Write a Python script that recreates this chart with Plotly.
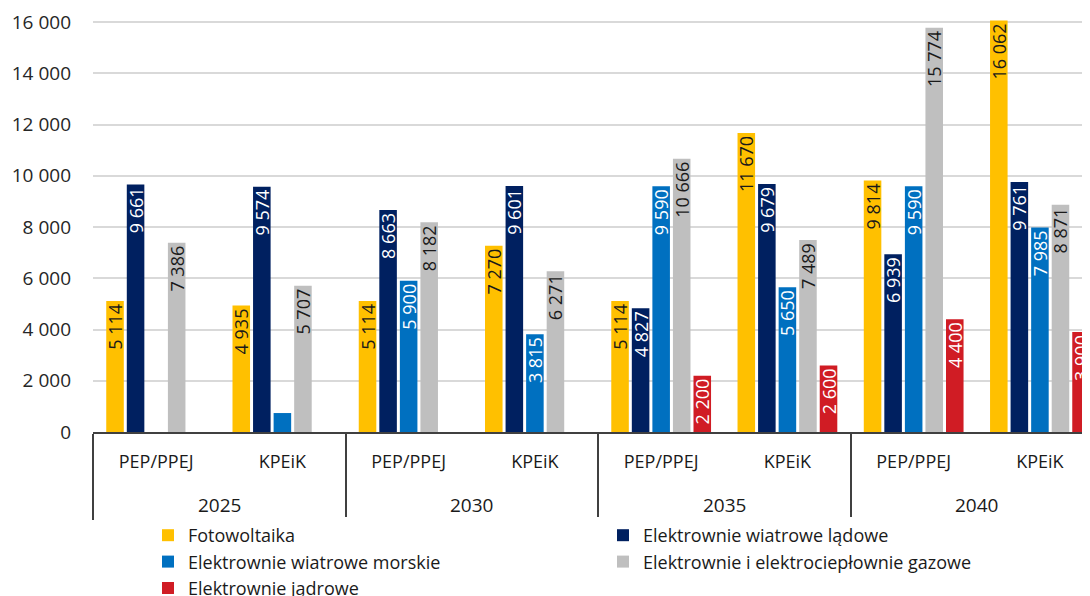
import plotly.graph_objects as go

years = ["2025", "2030", "2035", "2040"]
scenarios = ["PEP/PPEJ", "KPEiK", "PEP/PPEJ", "KPEiK", "PEP/PPEJ", "KPEiK", "PEP/PPEJ", "KPEiK"]

series_names = [
    "Fotowoltaika",
    "Elektrownie wiatrowe lądowe",
    "Elektrownie wiatrowe morskie",
    "Elektrownie i elektrociepłownie gazowe",
    "Elektrownie jądrowe",
]
pv = [5114, 4935, 5114, 7270, 5114, 11670, 9814, 16062]
wind_onshore = [9661, 9574, 8663, 9601, 4827, 9679, 6939, 9761]
wind_offshore = [None, 740, 5900, 3815, 9590, 5650, 9590, 7985]
gas = [7386, 5707, 8182, 6271, 10666, 7489, 15774, 8871]
nuclear = [None, None, None, None, 2200, 2600, 4400, 3900]

colors = ["#FFC000", "#002060", "#0070C0", "#BFBFBF", "#D01C24"]
label_colors = ["#1a1a1a", "#ffffff", "#ffffff", "#1a1a1a", "#ffffff"]

FONT = "Open Sans, Roboto, sans-serif"

xpos = list(range(len(scenarios)))
per_year = len(scenarios) // len(years)


def fmt(v):
    if v is None or v < 1500:
        return ""
    return f"{v:,}".replace(",", " ")


fig = go.Figure()
for name, vals, col, lcol in zip(series_names, [pv, wind_onshore, wind_offshore, gas, nuclear], colors, label_colors):
    fig.add_trace(go.Bar(
        x=xpos,
        y=vals,
        name=name,
        marker=dict(color=col, line=dict(width=0)),
        text=[fmt(v) for v in vals],
        textposition="inside",
        insidetextanchor="end",
        textangle=-90,
        constraintext="none",
        textfont=dict(family=FONT, size=18, color=lcol),
        cliponaxis=False,
    ))

fig.update_layout(
    width=1090,
    height=596,
    margin=dict(l=85, r=0, t=12, b=172, autoexpand=False),
    plot_bgcolor="white",
    paper_bgcolor="white",
    barmode="group",
    bargap=0.186,
    bargroupgap=0.146,
    separators=", ",
    font=dict(family=FONT, size=18, color="#1a1a1a"),
    showlegend=True,
    legend=dict(
        orientation="h",
        x=0.0547,
        xanchor="left",
        y=-0.2063,
        yanchor="top",
        entrywidth=410,
        entrywidthmode="pixels",
        font=dict(family=FONT, size=18, color="#1a1a1a"),
        traceorder="normal",
        itemwidth=30,
    ),
)

fig.update_xaxes(
    range=[-0.5, 7.46],
    tickmode="array",
    tickvals=xpos,
    ticktext=scenarios,
    showline=True,
    linecolor="#404040",
    linewidth=1.5,
    ticks="",
    ticklabelstandoff=13,
    tickfont=dict(family=FONT, size=18, color="#1a1a1a"),
    showgrid=False,
    zeroline=False,
    minor=dict(
        tickmode="linear",
        tick0=-0.5,
        dtick=per_year,
        ticks="outside",
        ticklen=86,
        tickwidth=1.5,
        tickcolor="#404040",
        showgrid=False,
    ),
)
fig.update_yaxes(
    range=[0, 16080],
    tickmode="array",
    tickvals=list(range(0, 16001, 2000)),
    tickformat=",d",
    showgrid=True,
    gridcolor="#D9D9D9",
    gridwidth=1.5,
    zeroline=False,
    showline=False,
    ticks="",
    ticklabelstandoff=21,
    tickfont=dict(family=FONT, size=19, color="#262626"),
)

for i, yr in enumerate(years):
    center = sum(xpos[i * per_year:(i + 1) * per_year]) / per_year
    fig.add_annotation(
        text=yr, x=center, xref="x", y=-73 / 412, yref="paper",
        xanchor="center", yanchor="middle", showarrow=False,
        font=dict(family=FONT, size=19, color="#1a1a1a"),
    )

fig.write_html("out.html")
